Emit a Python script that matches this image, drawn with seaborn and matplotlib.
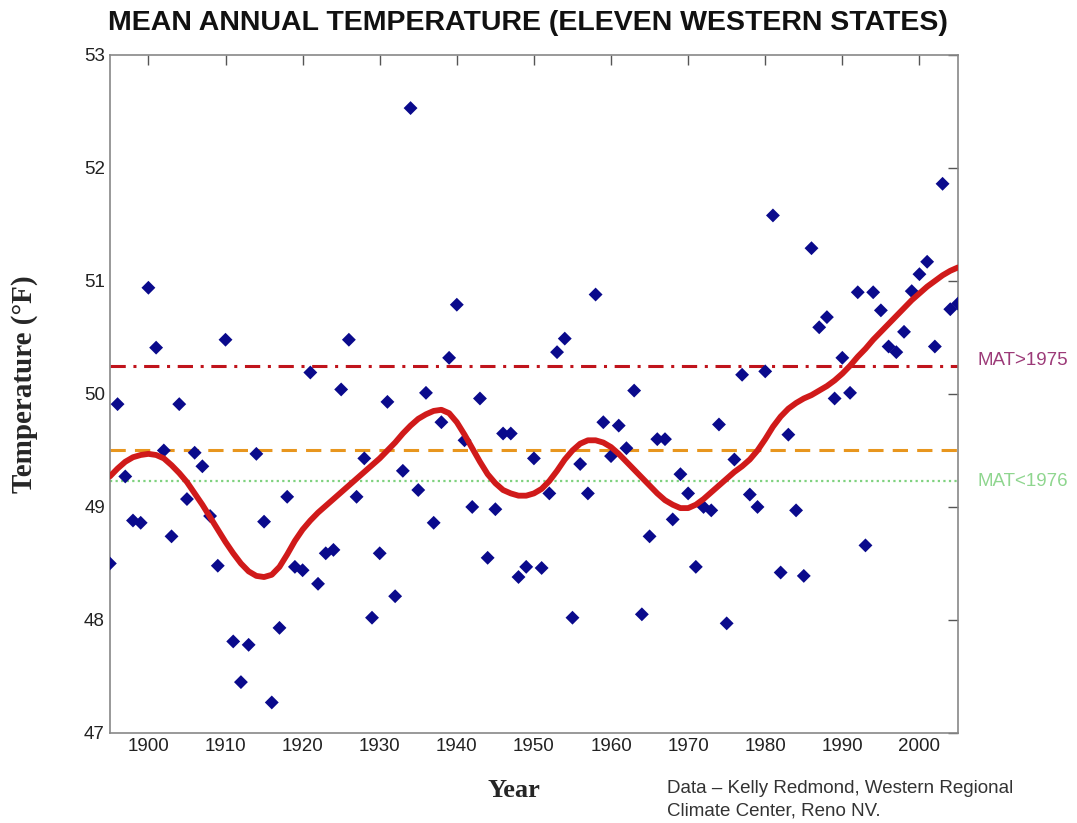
import matplotlib
matplotlib.use("Agg")
import matplotlib.pyplot as plt
import seaborn as sns
import pandas as pd

# Annual mean temperature, eleven western states (°F)
years = list(range(1895, 2006))
temps = [
    48.50, 49.91, 49.27, 48.88, 48.86, 50.94, 50.41, 49.50, 48.74, 49.91,
    49.07, 49.48, 49.36, 48.92, 48.48, 50.48, 47.81, 47.45, 47.78, 49.47,
    48.87, 47.27, 47.93, 49.09, 48.47, 48.44, 50.19, 48.32, 48.59, 48.62,
    50.04, 50.48, 49.09, 49.43, 48.02, 48.59, 49.93, 48.21, 49.32, 52.53,
    49.15, 50.01, 48.86, 49.75, 50.32, 50.79, 49.59, 49.00, 49.96, 48.55,
    48.98, 49.65, 49.65, 48.38, 48.47, 49.43, 48.46, 49.12, 50.37, 50.49,
    48.02, 49.38, 49.12, 50.88, 49.75, 49.45, 49.72, 49.52, 50.03, 48.05,
    48.74, 49.60, 49.60, 48.89, 49.29, 49.12, 48.47, 49.00, 48.97, 49.73,
    47.97, 49.42, 50.17, 49.11, 49.00, 50.20, 51.58, 48.42, 49.64, 48.97,
    48.39, 51.29, 50.59, 50.68, 49.96, 50.32, 50.01, 50.90, 48.66, 50.90,
    50.74, 50.42, 50.37, 50.55, 50.91, 51.06, 51.17, 50.42, 51.86, 50.75,
    50.80,
]

# Smoothed trend, one value per year
smooth_temps = [
    49.27, 49.34, 49.40, 49.44, 49.46, 49.47, 49.46, 49.43, 49.37, 49.30,
    49.22, 49.12, 49.02, 48.91, 48.80, 48.69, 48.59, 48.50, 48.43, 48.39,
    48.38, 48.40, 48.47, 48.58, 48.70, 48.80, 48.88, 48.95, 49.01, 49.07,
    49.13, 49.19, 49.25, 49.31, 49.37, 49.43, 49.50, 49.57, 49.65, 49.72,
    49.78, 49.82, 49.85, 49.86, 49.83, 49.75, 49.64, 49.52, 49.40, 49.29,
    49.21, 49.15, 49.12, 49.10, 49.10, 49.12, 49.16, 49.23, 49.32, 49.42,
    49.50, 49.56, 49.59, 49.59, 49.57, 49.53, 49.47, 49.40, 49.33, 49.26,
    49.19, 49.12, 49.06, 49.02, 48.99, 48.99, 49.02, 49.07, 49.13, 49.19,
    49.25, 49.31, 49.36, 49.42, 49.50, 49.60, 49.71, 49.80, 49.87, 49.92,
    49.96, 49.99, 50.03, 50.07, 50.12, 50.18, 50.25, 50.33, 50.40, 50.48,
    50.55, 50.62, 50.69, 50.76, 50.83, 50.89, 50.95, 51.00, 51.05, 51.09,
    51.12,
]

mat_after_1975 = 50.25
mat_overall = 49.50
mat_before_1976 = 49.23

x_ticks = [1900, 1910, 1920, 1930, 1940, 1950, 1960, 1970, 1980, 1990, 2000]
y_ticks = [47, 48, 49, 50, 51, 52, 53]

obs = pd.DataFrame({"Year": years, "Temp": temps})
trend = pd.DataFrame({"Year": years, "Temp": smooth_temps})

sns.set_style("white")
plt.rcParams["font.family"] = ["Liberation Sans", "DejaVu Sans"]
serif = ["Liberation Serif", "DejaVu Serif"]

fig = plt.figure(figsize=(10.77, 8.23), dpi=100)
ax = fig.add_axes([0.102, 0.1094, 0.7875, 0.8238])

ax.axhline(mat_after_1975, color="#c0141c", lw=2.2, ls=(0, (5, 2.5, 1, 2.5)), zorder=1)
ax.axhline(mat_overall, color="#e8961e", lw=2.2, ls=(0, (5, 3)), zorder=1)
ax.axhline(mat_before_1976, color="#7fd27f", lw=1.6, ls=(0, (1, 1.5)), zorder=1)

sns.scatterplot(data=obs, x="Year", y="Temp", marker="D", s=50, color="#0a0a8c",
                edgecolor="none", ax=ax, zorder=3)
sns.lineplot(data=trend, x="Year", y="Temp", color="#d01a1a", lw=4.2, ax=ax,
             zorder=4, sort=False, solid_joinstyle="round", solid_capstyle="round")

ax.set_xlim(1895, 2005)
ax.set_ylim(47, 53)
ax.set_xticks(x_ticks)
ax.set_yticks(y_ticks)
ax.tick_params(direction="in", length=7, width=1, colors="#555555",
               top=True, right=True, labelsize=13.5, labelcolor="#222222")
for sp in ax.spines.values():
    sp.set_color("#888888")
    sp.set_linewidth(1.2)

ax.set_xlabel("")
ax.set_ylabel("")
fig.text(0.0232, 0.5334, "Temperature (°F)", family=serif, fontweight="bold",
         fontsize=21, rotation=90, ha="center", va="center")
fig.text(0.477, 0.040, "Year", family=serif, fontweight="bold", fontsize=19,
         ha="center", va="center")

fig.text(0.490, 0.9720, "MEAN ANNUAL TEMPERATURE (ELEVEN WESTERN STATES)",
         ha="center", va="center", fontsize=20.5, fontweight="bold", color="#111111")

fig.text(0.908, 0.562, "MAT>1975", ha="left", va="center", fontsize=13.5,
         color="#9c3a78")
fig.text(0.908, 0.415, "MAT<1976", ha="left", va="center", fontsize=13.5,
         color="#8fd68f")

fig.text(0.619, 0.0285, "Data – Kelly Redmond, Western Regional\nClimate Center, Reno NV.",
         ha="left", va="center", fontsize=13.5, color="#333333", linespacing=1.45)

fig.savefig("out.png", dpi=100, facecolor="white")
